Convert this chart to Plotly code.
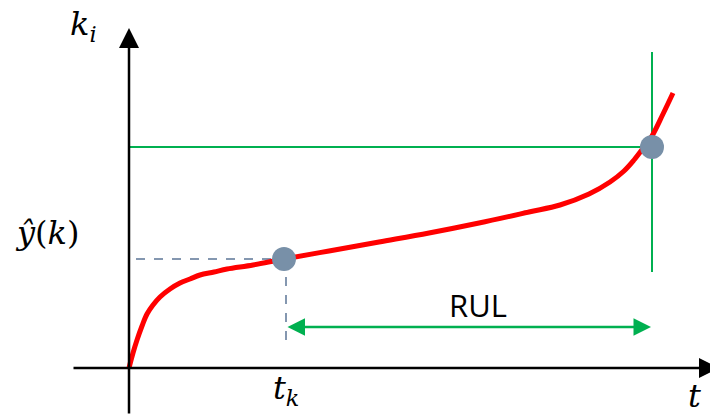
import plotly.graph_objects as go

# Degradation trajectory k_i(t) (time and health-index units)
t_curve = [0, 4, 8, 13, 18, 24, 31, 41, 51, 61, 71, 85, 98, 124, 155, 200, 250, 300, 350, 400, 431, 460, 481, 495, 505, 515, 523, 534, 544]
k_curve = [0, 15, 28, 42, 54, 63, 71, 79, 85, 89, 93, 96, 99, 103, 109, 117, 126, 135, 145, 156, 163, 174, 186, 197, 208, 221, 232, 254, 275]

# Current time / predicted value and failure time / threshold
t_k, y_k = 155, 109
t_fail, threshold = 523, 221

# Axis extents (with arrowheads)
x_axis = [-57, 590]
y_axis = [-47, 340]

fig = go.Figure()

# threshold (green horizontal) and failure time (green vertical)
fig.add_trace(go.Scatter(x=[0, t_fail], y=[threshold, threshold], mode="lines",
                         line=dict(color="#00B050", width=2), hoverinfo="skip"))
fig.add_trace(go.Scatter(x=[t_fail, t_fail], y=[96, 316], mode="lines",
                         line=dict(color="#00B050", width=2), hoverinfo="skip"))

# dashed projections of current point
fig.add_trace(go.Scatter(x=[7, t_k], y=[y_k, y_k], mode="lines",
                         line=dict(color="#8497B0", width=2, dash="dash"), hoverinfo="skip"))
fig.add_trace(go.Scatter(x=[t_k + 2, t_k + 2], y=[y_k, 24], mode="lines",
                         line=dict(color="#8497B0", width=2, dash="dash"), hoverinfo="skip"))

# degradation curve
fig.add_trace(go.Scatter(x=t_curve, y=k_curve, mode="lines", line_shape="spline",
                         line=dict(color="#FF0000", width=5, smoothing=1.0), hoverinfo="skip"))

# current and failure points
fig.add_trace(go.Scatter(x=[t_k, t_fail], y=[y_k, threshold], mode="markers",
                         marker=dict(color="#7890A8", size=24), hoverinfo="skip"))

arrow_common = dict(xref="x", yref="y", axref="x", ayref="y", showarrow=True, text="")
annotations = [
    # axes with arrowheads
    dict(x=x_axis[1], y=0, ax=x_axis[0], ay=0, arrowhead=2, arrowsize=1.6,
         arrowwidth=2.5, arrowcolor="#000000", **arrow_common),
    dict(x=0, y=y_axis[1], ax=0, ay=y_axis[0], arrowhead=2, arrowsize=1.6,
         arrowwidth=2.5, arrowcolor="#000000", **arrow_common),
    # RUL double arrow
    dict(x=t_fail - 1, y=41, ax=t_k + 2, ay=41, arrowhead=2, startarrowhead=2,
         arrowside="end+start", arrowsize=1.4, startarrowsize=1.4,
         arrowwidth=2.5, arrowcolor="#00B050", **arrow_common),
]

math_font = dict(family="DejaVu Serif", size=32, color="#000000")
annotations += [
    dict(x=-46, y=342, xref="x", yref="y", text="<i>k</i><sub><i>i</i></sub>",
         showarrow=False, font=math_font),
    dict(x=-82, y=135, xref="x", yref="y", text="<i>ŷ</i>(<i>k</i>)",
         showarrow=False, font=math_font),
    dict(x=157, y=-22, xref="x", yref="y", text="<i>t</i><sub><i>k</i></sub>",
         showarrow=False, font=math_font),
    dict(x=565, y=-28, xref="x", yref="y", text="<i>t</i>",
         showarrow=False, font=math_font),
    dict(x=349, y=63, xref="x", yref="y", text="RUL", showarrow=False,
         font=dict(family="Open Sans", size=31, color="#000000")),
]

fig.update_layout(
    width=710, height=415,
    margin=dict(l=0, r=0, t=0, b=0),
    paper_bgcolor="white", plot_bgcolor="white",
    showlegend=False,
    annotations=annotations,
    xaxis=dict(range=[-129, 581], visible=False, fixedrange=True),
    yaxis=dict(range=[-47, 368], visible=False, fixedrange=True),
)

fig.write_html("out.html")
